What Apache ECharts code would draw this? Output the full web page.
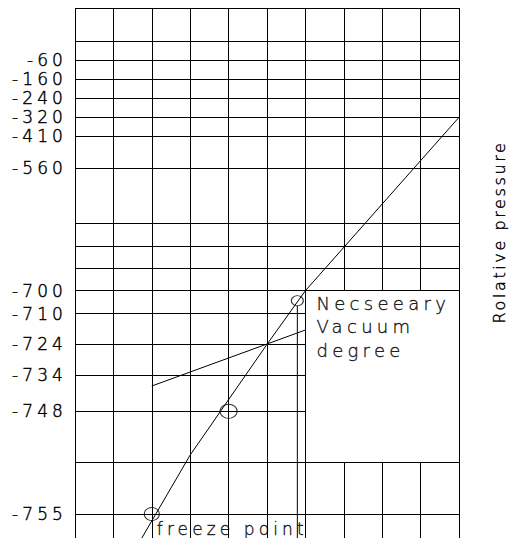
<!DOCTYPE html>
<html>
<head>
<meta charset="utf-8">
<script src="https://cdn.jsdelivr.net/npm/echarts@6/dist/echarts.min.js"></script>
<style>
  html, body { margin: 0; padding: 0; background: #fff; }
  #chart { width: 512px; height: 538px; }
</style>
</head>
<body>
<div id="chart"></div>
<script>
// Pressure scale: tick labels and the height of the ruling each one sits on
// (drawing units, 0 = bottom edge of the sheet)
const tickLabels = ['-60', '-160', '-240', '-320', '-410', '-560', '-700', '-710', '-724', '-734', '-748', '-755'];
const tickLevels = [477.7, 458.7, 439.7, 420.7, 401.7, 369.7, 247.3, 224.3, 193.7, 162.7, 126.7, 24];
// Unlabelled rulings
const plainLevels = [496.3, 314.7, 292, 269.7, 75.3];
const topLevel = 530;
const columnTicks = [0, 1, 2, 3, 4, 5, 6, 7, 8, 9, 10];
// Open panel that carries the note (no rulings inside)
const panelCols = [6, 10];
const panelLevels = [75.3, 247.3];
// Pressure curve
const curveX = [1.74, 3.0, 5.0, 6.0, 10];
const curveY = [0, 83, 193.7, 247.3, 420.7];
// Vacuum-degree line
const vacuumX = [2, 6];
const vacuumY = [152, 208];
// Marked points (ring width / height)
const markX = [2, 4, 5.79];
const markY = [24, 126.7, 237.3];
const markW = [15, 17, 12];
const markH = [13, 14, 10];
// Drop line from the required-vacuum mark
const dropX = 5.79;
const dropY = [0, 232];

const FONT = '"DejaVu Sans", sans-serif';
// thin drafting lettering, darkened with a hairline outline
const ink = { color: '#000', fontFamily: FONT, fontWeight: 200, textBorderColor: '#000', textBorderWidth: 0.45 };

// Rulings of the sheet, broken around the note panel
const rulings = [];
[...tickLevels, ...plainLevels, topLevel].forEach(L => {
  const inPanel = L > panelLevels[0] && L < panelLevels[1];
  rulings.push({ coords: [[0, L], [inPanel ? panelCols[0] : 10, L]] });
});
columnTicks.forEach(c => {
  if (c > panelCols[0] && c < panelCols[1]) {
    rulings.push({ coords: [[c, 0], [c, panelLevels[0]]] });
    rulings.push({ coords: [[c, panelLevels[1]], [c, topLevel]] });
  } else {
    rulings.push({ coords: [[c, 0], [c, topLevel]] });
  }
});

const zip = (xs, ys) => xs.map((x, i) => [x, ys[i]]);
const thin = { color: '#000', width: 1 };

const chart = echarts.init(document.getElementById('chart'), null, { renderer: 'svg' });
chart.setOption({
  animation: false,
  backgroundColor: '#fff',
  grid: { left: 75, right: 53, top: 8, bottom: 0 },
  xAxis: { type: 'value', min: 0, max: 10, show: false },
  yAxis: {
    type: 'value', min: 0, max: topLevel,
    axisLine: { show: false },
    axisTick: { show: false, customValues: tickLevels },
    splitLine: { show: false },
    axisLabel: Object.assign({
      customValues: tickLevels,
      formatter: v => {
        let best = 0;
        tickLevels.forEach((L, i) => { if (Math.abs(L - v) < Math.abs(tickLevels[best] - v)) best = i; });
        return tickLabels[best];
      },
      fontSize: 17, margin: 8
    }, ink)
  },
  graphic: [{
    type: 'text', x: 499, y: 232, rotation: Math.PI / 2,
    style: {
      text: 'Rolative pressure', fill: '#000', stroke: '#000', lineWidth: 0.4,
      font: '200 16px ' + FONT, align: 'center', verticalAlign: 'middle'
    }
  }],
  series: [
    { type: 'lines', coordinateSystem: 'cartesian2d', silent: true, lineStyle: { color: '#000', width: 1, opacity: 1 }, data: rulings },
    { type: 'line', data: zip(curveX, curveY), symbol: 'none', lineStyle: thin, silent: true },
    { type: 'line', data: zip(vacuumX, vacuumY), symbol: 'none', lineStyle: thin, silent: true },
    { type: 'line', data: dropY.map(y => [dropX, y]), symbol: 'none', lineStyle: thin, silent: true },
    {
      type: 'scatter', silent: true,
      data: markX.map((x, i) => [x, markY[i], markW[i], markH[i]]),
      symbol: 'circle', symbolSize: v => [v[2], v[3]],
      itemStyle: { color: 'rgba(0,0,0,0)', borderColor: '#000', borderWidth: 1 }
    },
    {
      type: 'scatter', silent: true, symbolSize: 0,
      data: [
        { value: [panelCols[0], panelLevels[1]], label: { show: true, formatter: 'Necseeary\nVacuum\ndegree', position: [11, 1], fontSize: 18, lineHeight: 23.5 } },
        { value: [markX[0], markY[0]], label: { show: true, formatter: 'freeze point', position: [5, 5], fontSize: 17, lineHeight: 20 } }
      ],
      label: Object.assign({ align: 'left', verticalAlign: 'top' }, ink)
    }
  ]
});

// Open letter spacing for the drafting lettering
const spacing = { 16: '2.6px', 17: '4.1px', 18: '4.3px' };
chart.getDom().querySelectorAll('text').forEach(t => {
  const fs = Math.round(parseFloat(getComputedStyle(t).fontSize));
  if (spacing[fs]) t.style.letterSpacing = spacing[fs];
});
</script>
</body>
</html>
